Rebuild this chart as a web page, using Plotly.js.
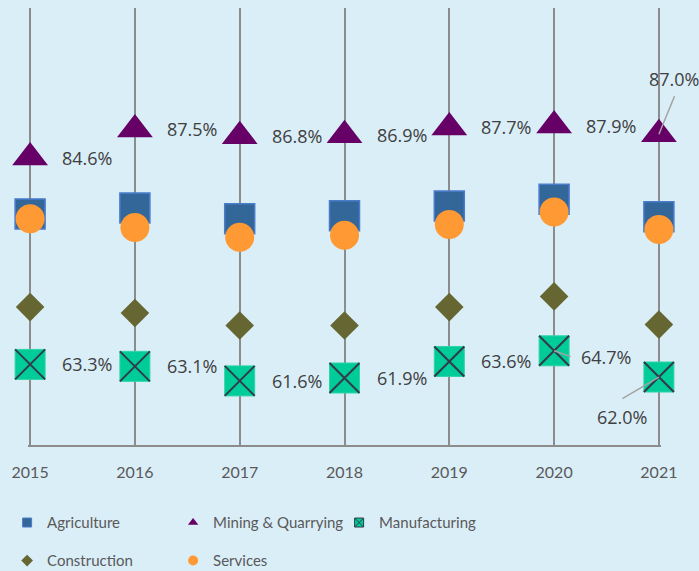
<!DOCTYPE html>
<html>
<head>
<meta charset="utf-8">
<script src="https://cdn.plot.ly/plotly-3.0.1.min.js"></script>
<style>html,body{margin:0;padding:0;background:#daeef8;}#chart{width:699px;height:571px;}</style>
</head>
<body>
<div id="chart"></div>
<script>
// ---- data ----
const years = ['2015', '2016', '2017', '2018', '2019', '2020', '2021'];
const agriculture = [78.8, 79.4, 78.3, 78.6, 79.6, 80.3, 78.5];
const mining = [84.6, 87.5, 86.8, 86.9, 87.7, 87.9, 87.0];
const manufacturing = [63.3, 63.1, 61.6, 61.9, 63.6, 64.7, 62.0];
const construction = [69.2, 68.6, 67.3, 67.3, 69.2, 70.3, 67.4];
const services = [78.3, 77.4, 76.4, 76.6, 77.7, 79.0, 77.2];
const seriesNames = ['Agriculture', 'Mining & Quarrying', 'Manufacturing', 'Construction', 'Services'];

// ---- style ----
const colors = {
  agri: '#336699', agriLine: '#4a7ccc',
  mining: '#660066',
  manuf: '#00cc99', manufX: '#333a4a',
  constr: '#666633',
  serv: '#ff9933',
  grid: '#8c8c8c',
  text: '#404040',
  tick: '#595959',
  leader: '#a3a3a3',
  bg: '#daeef8'
};
const narrowFamily = '"Liberation Sans Narrow", Lato, sans-serif';
const tickFont = {family: narrowFamily, size: 16, color: colors.tick};
const labelFont = {family: '"Open Sans", sans-serif', size: 18, color: colors.text};

// label placement overrides (pixel offsets from the point):
// tx/ty = label centre, lx/ly = end of leader line (y down)
const labelOffsets = {
  mining: {6: {tx: 15, ty: -55, lx: 16, ly: -39}},
  manufacturing: {5: {tx: 52, ty: 6, lx: 17, ly: 6}, 6: {tx: -37, ty: 40, lx: -37, ly: 22}}
};

function mk(name, y, marker, extra) {
  return Object.assign({
    type: 'scatter', mode: 'markers', name: name, x: years, y: y,
    marker: marker, cliponaxis: false, showlegend: false, hoverinfo: 'x+y+name'
  }, extra || {});
}
function legendOnly(name, marker, legendId) {
  return {type: 'scatter', mode: 'markers', name: name, x: [null], y: [null],
          marker: marker, showlegend: true, legend: legendId, hoverinfo: 'skip'};
}

const traces = [
  mk(seriesNames[0], agriculture, {symbol: 'square', size: 30, color: colors.agri, line: {color: colors.agriLine, width: 1.5}}),
  mk(seriesNames[1], mining, {symbol: 'triangle-up', size: 31, color: colors.mining, line: {width: 0}}),
  mk(seriesNames[2], manufacturing, {symbol: 'square', size: 30, color: colors.manuf, line: {color: '#2fd4a6', width: 1}}),
  mk(seriesNames[2], manufacturing, {symbol: 'x-thin-open', size: 30, color: colors.manufX, line: {color: colors.manufX, width: 2}}, {hoverinfo: 'skip'}),
  mk(seriesNames[3], construction, {symbol: 'diamond', size: 22, color: colors.constr, line: {width: 0}}),
  mk(seriesNames[4], services, {symbol: 'circle', size: 29, color: colors.serv, line: {width: 0}}),
  // legend entries
  legendOnly(seriesNames[0], {symbol: 'square', size: 9, color: colors.agri, line: {color: colors.agriLine, width: 1}}, 'legend'),
  legendOnly(seriesNames[1], {symbol: 'triangle-up', size: 9, color: colors.mining, line: {width: 0}}, 'legend'),
  legendOnly(seriesNames[2], {symbol: 'square-x', size: 9, color: colors.manuf, line: {color: colors.manufX, width: 1}}, 'legend'),
  legendOnly(seriesNames[3], {symbol: 'diamond', size: 9, color: colors.constr, line: {width: 0}}, 'legend2'),
  legendOnly(seriesNames[4], {symbol: 'circle', size: 10, color: colors.serv, line: {width: 0}}, 'legend2')
];

function buildLabels(values, key) {
  const out = [];
  values.forEach(function(v, i) {
    const off = (labelOffsets[key] || {})[i];
    // x given as the category index on the category axis
    const base = {x: i, y: v, xref: 'x', yref: 'y', text: v.toFixed(1) + '%', font: labelFont, showarrow: false};
    if (off) {
      out.push(Object.assign(base, {xanchor: 'center', yanchor: 'middle', xshift: off.tx, yshift: -off.ty}));
      // leader line: an arrow without head from the point to the label
      out.push({x: i, y: v, xref: 'x', yref: 'y', text: ' ', font: {size: 1, color: 'rgba(0,0,0,0)'},
        showarrow: true, arrowhead: 0, arrowwidth: 1.5, arrowcolor: colors.leader,
        ax: off.lx, ay: off.ly, axref: 'pixel', ayref: 'pixel', standoff: 0, startstandoff: 0, borderpad: 0});
    } else {
      out.push(Object.assign(base, {xanchor: 'left', yanchor: 'middle', xshift: 30}));
    }
  });
  return out;
}

const annotations = buildLabels(mining, 'mining').concat(buildLabels(manufacturing, 'manufacturing'));

const legendCommon = {
  orientation: 'h', xref: 'paper', yref: 'paper', xanchor: 'left', yanchor: 'middle',
  bgcolor: 'rgba(0,0,0,0)', borderwidth: 0, entrywidth: 121, entrywidthmode: 'pixels',
  font: {family: narrowFamily, size: 15, color: colors.tick},
  itemwidth: 30, tracegroupgap: 0
};

const pad = 0.02; // small padding so edge gridlines are kept
const layout = {
  width: 699, height: 571,
  paper_bgcolor: colors.bg, plot_bgcolor: colors.bg,
  margin: {l: 28, r: 38, t: 8, b: 126, autoexpand: false},
  showlegend: true,
  xaxis: {
    type: 'category', range: [-pad, 6 + pad], showgrid: true, gridcolor: colors.grid, gridwidth: 2,
    showline: true, linecolor: colors.grid, linewidth: 2, ticks: '', zeroline: false,
    tickfont: tickFont, ticklabelstandoff: 12, fixedrange: true
  },
  yaxis: {range: [55, 100], visible: false, showgrid: false, zeroline: false, fixedrange: true},
  legend: Object.assign({}, legendCommon, {x: -0.033, y: -0.178}),
  legend2: Object.assign({}, legendCommon, {x: -0.033, y: -0.265}),
  annotations: annotations,
  hovermode: 'closest'
};

Plotly.newPlot('chart', traces, layout, {displayModeBar: false, responsive: false});
</script>
</body>
</html>
